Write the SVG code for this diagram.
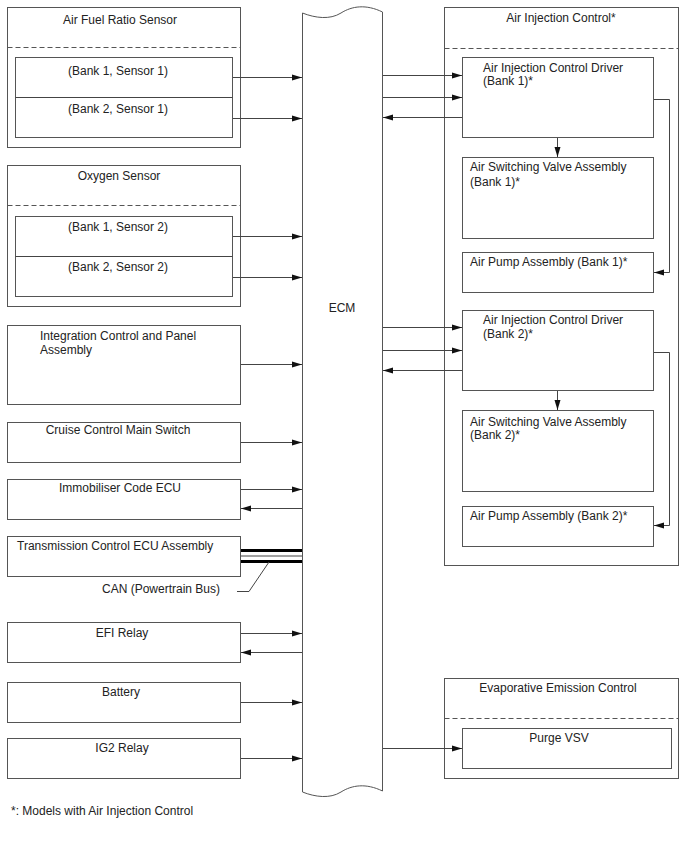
<svg xmlns="http://www.w3.org/2000/svg" width="688" height="852" viewBox="0 0 688 852">
<style>
.b{fill:#fff;stroke:#555;stroke-width:1}
.d{stroke:#555;stroke-width:1;stroke-dasharray:5,3;fill:none}
.l{stroke:#444;stroke-width:1;fill:none}
.a{stroke:#444;stroke-width:1;fill:none;marker-end:url(#ah)}
.t{font-family:"Liberation Sans",Arial,sans-serif;font-size:12px;fill:#222}
.c{text-anchor:middle}
.can{stroke:#000;stroke-width:3;fill:none}
</style>
<defs>
<marker id="ah" viewBox="0 0 10 8" refX="10" refY="4" markerWidth="10" markerHeight="8" markerUnits="userSpaceOnUse" orient="auto">
<path d="M0,1 L10,4 L0,7 Z" fill="#111"/>
</marker>
</defs>
<rect width="688" height="852" fill="#fff"/>

<g id="ecm">
<path class="b" d="M302.5,13 C315,18 330,20 341,13 C352,6 366,4 382.5,12 L382.5,791 C366,783 352,785 341,792 C330,799 315,797 302.5,792 Z"/>
<text class="t c" x="342" y="312">ECM</text>
</g>

<g id="afr">
<rect class="b" x="7.5" y="7.5" width="233" height="140"/>
<line class="d" x1="7.5" y1="47.5" x2="240.5" y2="47.5"/>
<text class="t c" x="120" y="24">Air Fuel Ratio Sensor</text>
<rect class="b" x="15.5" y="57.5" width="217" height="80"/>
<line class="l" x1="15.5" y1="97.5" x2="232.5" y2="97.5"/>
<text class="t c" x="118" y="75">(Bank 1, Sensor 1)</text>
<text class="t c" x="118" y="113">(Bank 2, Sensor 1)</text>
</g>

<g id="o2">
<rect class="b" x="7.5" y="165.5" width="233" height="141"/>
<line class="d" x1="7.5" y1="205.5" x2="240.5" y2="205.5"/>
<text class="t c" x="119" y="180">Oxygen Sensor</text>
<rect class="b" x="15.5" y="216.5" width="217" height="80"/>
<line class="l" x1="15.5" y1="256.5" x2="232.5" y2="256.5"/>
<text class="t c" x="118" y="231">(Bank 1, Sensor 2)</text>
<text class="t c" x="118" y="271">(Bank 2, Sensor 2)</text>
</g>

<g id="integ">
<rect class="b" x="7.5" y="325.5" width="233" height="79"/>
<text class="t" x="40" y="340">Integration Control and Panel</text>
<text class="t" x="40" y="354">Assembly</text>
</g>

<g id="cruise">
<rect class="b" x="7.5" y="422.5" width="233" height="40"/>
<text class="t c" x="118" y="434">Cruise Control Main Switch</text>
</g>

<g id="immo">
<rect class="b" x="7.5" y="479.5" width="233" height="40"/>
<text class="t c" x="120" y="492">Immobiliser Code ECU</text>
</g>

<g id="tcm">
<rect class="b" x="7.5" y="536.5" width="233" height="40"/>
<text class="t" x="17" y="550">Transmission Control ECU Assembly</text>
</g>

<g id="efi">
<rect class="b" x="7.5" y="622.5" width="233" height="40"/>
<text class="t c" x="122" y="637">EFI Relay</text>
</g>

<g id="battery">
<rect class="b" x="7.5" y="682.5" width="233" height="40"/>
<text class="t c" x="121" y="696">Battery</text>
</g>

<g id="ig2">
<rect class="b" x="7.5" y="738.5" width="233" height="40"/>
<text class="t c" x="122" y="752">IG2 Relay</text>
</g>

<g id="aic">
<rect class="b" x="444.5" y="7.5" width="234" height="558"/>
<line class="d" x1="444.5" y1="48.5" x2="678.5" y2="48.5"/>
<text class="t c" x="561" y="22">Air Injection Control*</text>
</g>

<g id="drv1">
<rect class="b" x="462.5" y="57.5" width="191" height="80"/>
<text class="t" x="483" y="72">Air Injection Control Driver</text>
<text class="t" x="483" y="85">(Bank 1)*</text>
</g>
<g id="asv1">
<rect class="b" x="462.5" y="157.5" width="191" height="81"/>
<text class="t" x="470" y="171">Air Switching Valve Assembly</text>
<text class="t" x="470" y="186">(Bank 1)*</text>
</g>
<g id="pump1">
<rect class="b" x="462.5" y="252.5" width="191" height="40"/>
<text class="t" x="470" y="266">Air Pump Assembly (Bank 1)*</text>
</g>

<g id="drv2">
<rect class="b" x="462.5" y="310.5" width="191" height="80"/>
<text class="t" x="483" y="324">Air Injection Control Driver</text>
<text class="t" x="483" y="338">(Bank 2)*</text>
</g>
<g id="asv2">
<rect class="b" x="462.5" y="410.5" width="191" height="81"/>
<text class="t" x="470" y="426">Air Switching Valve Assembly</text>
<text class="t" x="470" y="439">(Bank 2)*</text>
</g>
<g id="pump2">
<rect class="b" x="462.5" y="506.5" width="191" height="40"/>
<text class="t" x="470" y="520">Air Pump Assembly (Bank 2)*</text>
</g>

<g id="evap">
<rect class="b" x="444.5" y="678.5" width="234" height="100"/>
<line class="d" x1="444.5" y1="718.5" x2="678.5" y2="718.5"/>
<text class="t c" x="558" y="692">Evaporative Emission Control</text>
<rect class="b" x="462.5" y="728.5" width="209" height="40"/>
<text class="t c" x="559" y="742">Purge VSV</text>
</g>

<g id="connectors">
<line class="a" x1="233" y1="77.5" x2="302" y2="77.5"/>
<line class="a" x1="233" y1="118.5" x2="302" y2="118.5"/>
<line class="a" x1="233" y1="236.5" x2="302" y2="236.5"/>
<line class="a" x1="233" y1="277.5" x2="302" y2="277.5"/>
<line class="a" x1="241" y1="364.5" x2="302" y2="364.5"/>
<line class="a" x1="241" y1="442.5" x2="302" y2="442.5"/>
<line class="a" x1="241" y1="489.5" x2="302" y2="489.5"/>
<line class="a" x1="302" y1="508.5" x2="241" y2="508.5"/>
<line class="can" x1="241" y1="550.5" x2="302" y2="550.5"/>
<line class="l" x1="241" y1="556" x2="302" y2="556"/>
<line class="can" x1="241" y1="561.5" x2="302" y2="561.5"/>
<polyline class="l" points="237,591.5 249,591.5 269,562"/>
<text class="t c" x="161" y="593">CAN (Powertrain Bus)</text>
<line class="a" x1="241" y1="633.5" x2="302" y2="633.5"/>
<line class="a" x1="302" y1="652.5" x2="241" y2="652.5"/>
<line class="a" x1="241" y1="702.5" x2="302" y2="702.5"/>
<line class="a" x1="241" y1="758.5" x2="302" y2="758.5"/>

<line class="a" x1="383" y1="75.5" x2="462" y2="75.5"/>
<line class="a" x1="383" y1="97.5" x2="462" y2="97.5"/>
<line class="a" x1="462" y1="117.5" x2="383" y2="117.5"/>
<line class="a" x1="557.5" y1="138" x2="557.5" y2="157"/>
<polyline class="a" points="654,99.5 669.5,99.5 669.5,272.5 654,272.5"/>

<line class="a" x1="383" y1="327.5" x2="462" y2="327.5"/>
<line class="a" x1="383" y1="350.5" x2="462" y2="350.5"/>
<line class="a" x1="462" y1="370.5" x2="383" y2="370.5"/>
<line class="a" x1="557.5" y1="391" x2="557.5" y2="410"/>
<polyline class="a" points="654,352.5 669.5,352.5 669.5,525.5 654,525.5"/>

<line class="a" x1="383" y1="748.5" x2="462" y2="748.5"/>
</g>

<text class="t" x="11" y="815">*: Models with Air Injection Control</text>
</svg>
